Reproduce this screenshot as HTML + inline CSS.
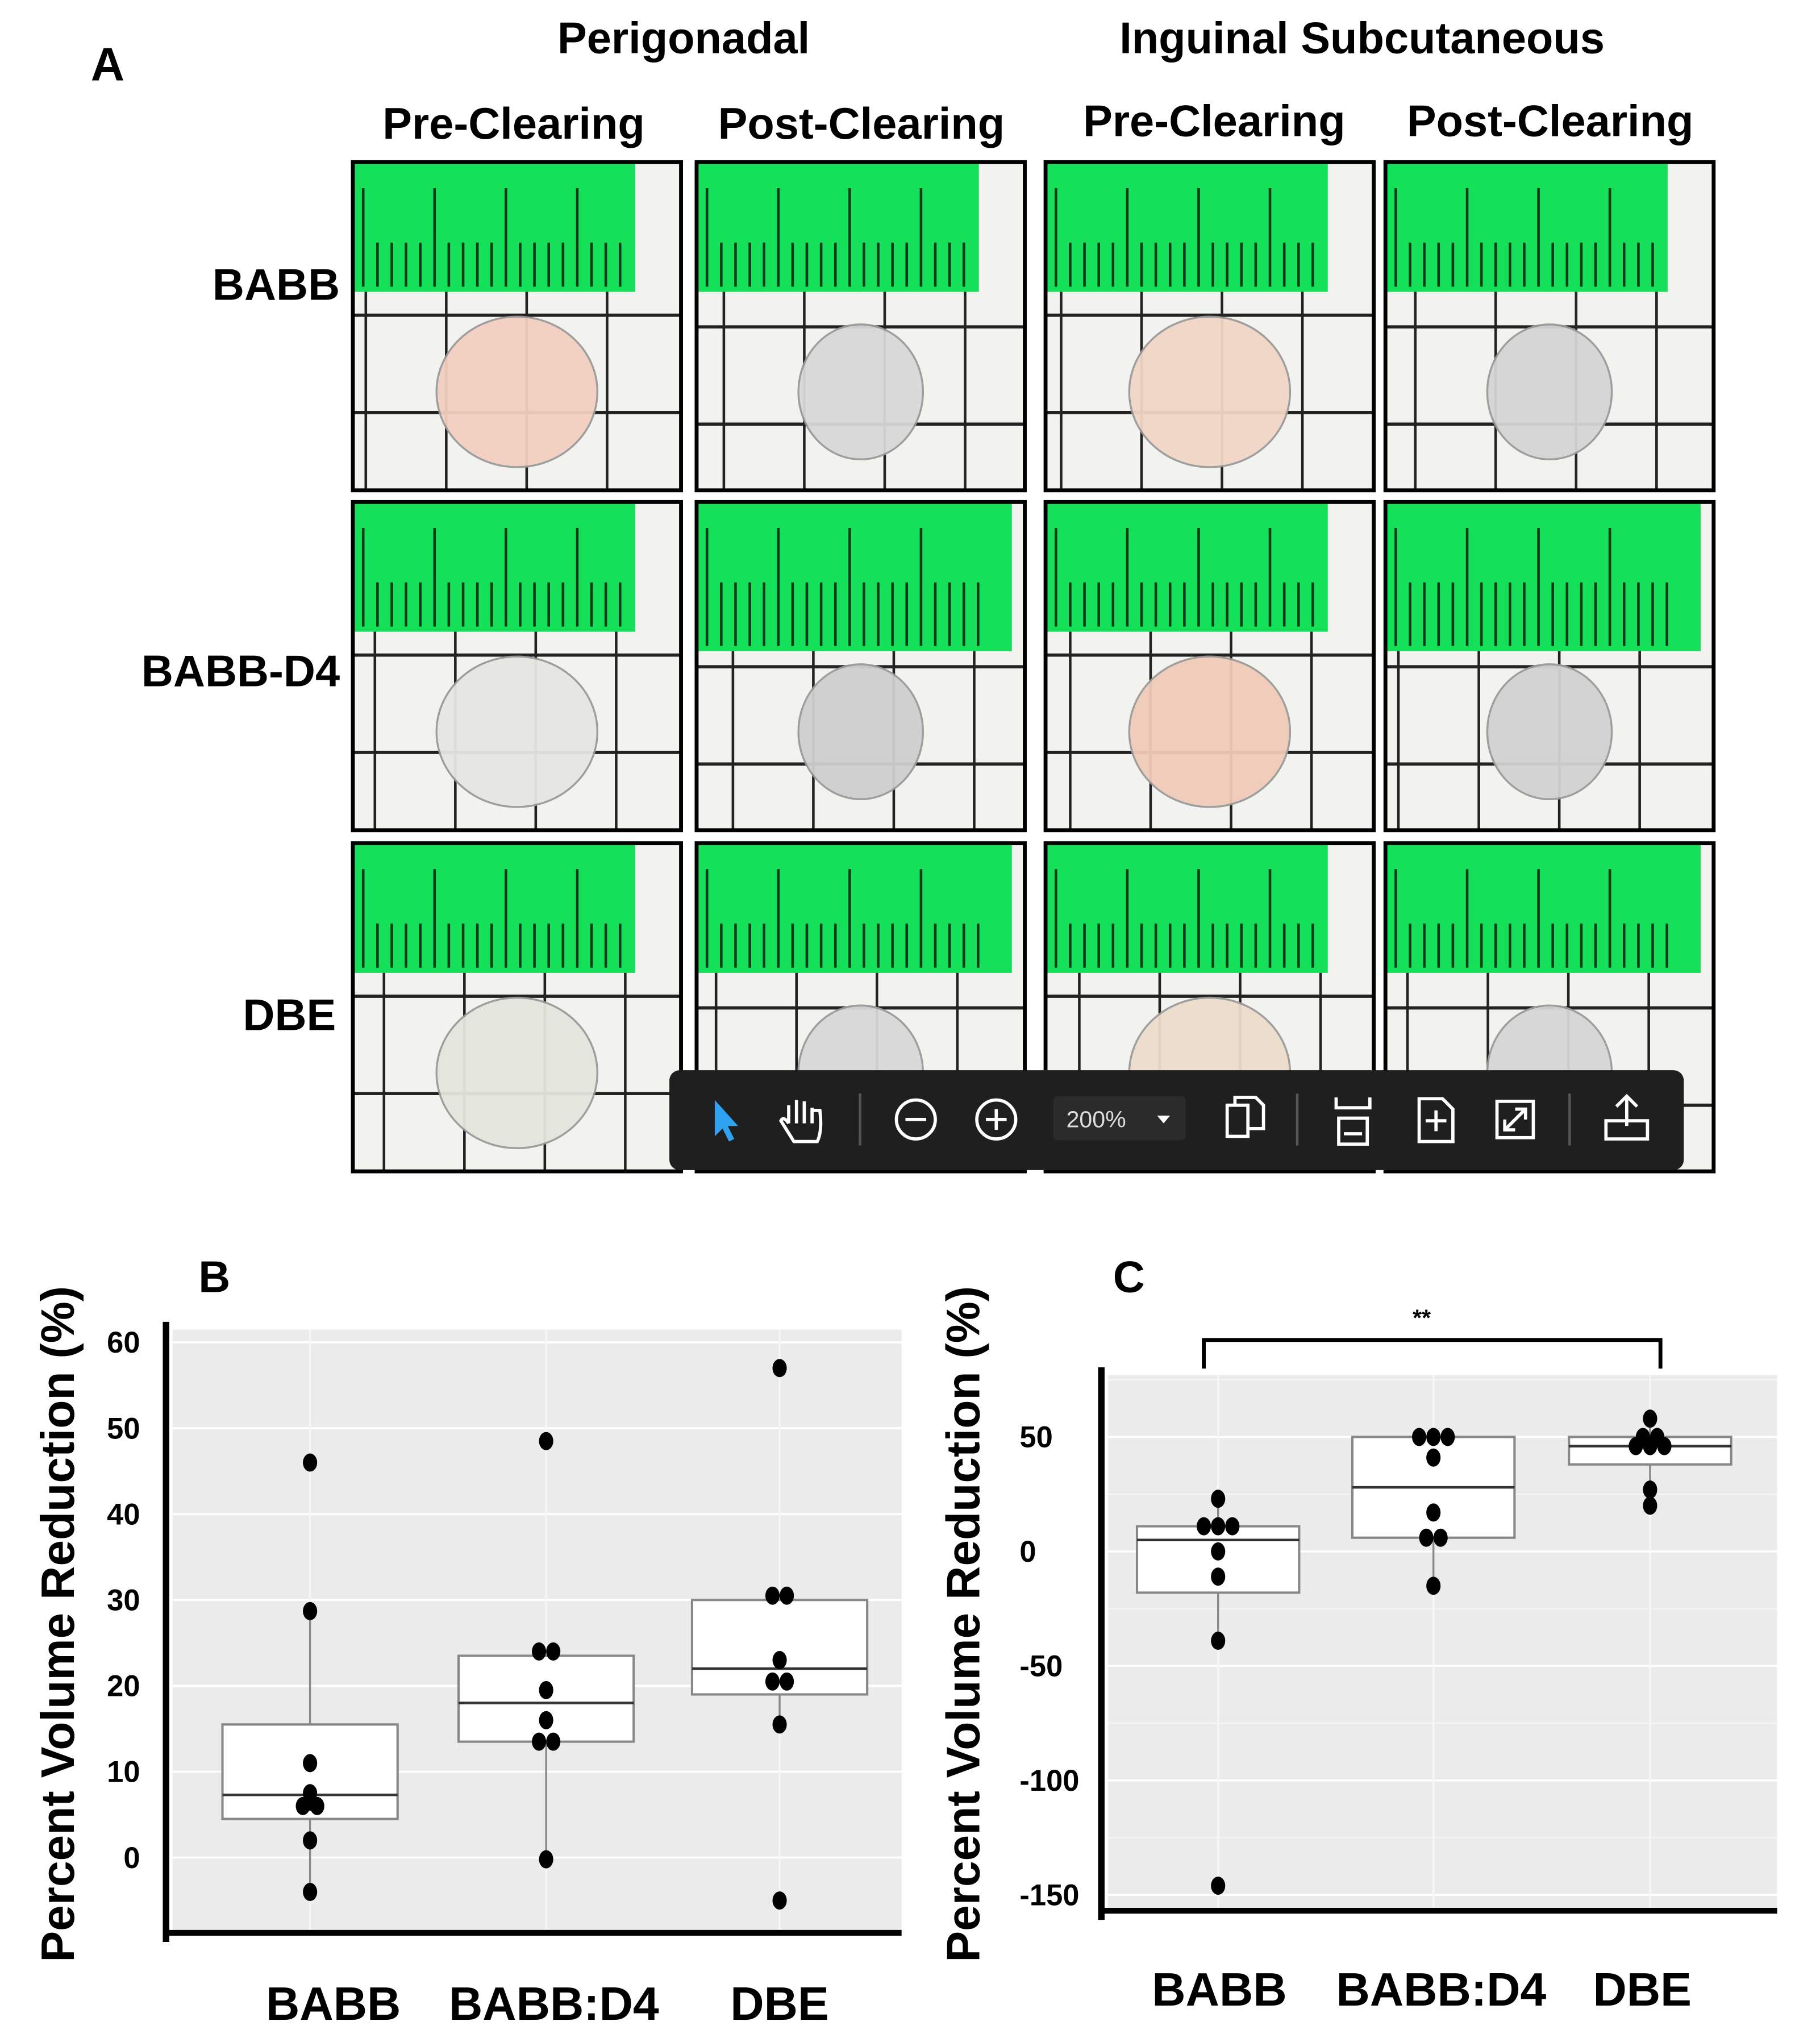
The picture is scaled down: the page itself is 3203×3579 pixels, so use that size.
<!DOCTYPE html>
<html><head><meta charset="utf-8"><style>
html,body{margin:0;padding:0;background:#fff}
svg{display:block}
text{font-family:"Liberation Sans",Arial,sans-serif;font-weight:bold;fill:#000}
</style></head><body>
<svg id="fig" xmlns="http://www.w3.org/2000/svg" width="3203" height="3579" viewBox="0 0 1403 1568" preserveAspectRatio="none">
<rect width="1403" height="1568" fill="#fff"/>
<g id="panelA">
<text x="70" y="62" font-size="36">A</text>
<text x="527" y="41" font-size="34" text-anchor="middle">Perigonadal</text>
<text x="1050" y="41" font-size="34" text-anchor="middle">Inguinal Subcutaneous</text>
<text x="396" y="107" font-size="34" text-anchor="middle">Pre-Clearing</text>
<text x="664" y="107" font-size="34" text-anchor="middle">Post-Clearing</text>
<text x="936" y="105" font-size="34" text-anchor="middle">Pre-Clearing</text>
<text x="1195" y="105" font-size="34" text-anchor="middle">Post-Clearing</text>
<text x="262" y="231" font-size="34" text-anchor="end">BABB</text>
<text x="262" y="529" font-size="34" text-anchor="end">BABB-D4</text>
<text x="259" y="794" font-size="34" text-anchor="end">DBE</text>
</g>
<g id="photos"></g>
<g id="toolbar">
<rect x="516" y="825" width="782" height="77" rx="8" fill="#1f1f1f"/>
<path d="M551 848 L551 876 L557 870 L562 880 L566 878 L561 868 L569 868 Z" fill="#2ea3f2"/>
<g fill="none" stroke="#fff" stroke-width="2.5"><path d="M608 866 L608 852 M614 866 L614 848 M620 866 L620 849 M626 866 L626 854 M608 866 Q604 860 602 864 L612 880 L630 880 Q634 872 632 856 L626 856"/></g>
<line x1="663" y1="843" x2="663" y2="883" stroke="#555" stroke-width="2"/>
<g fill="none" stroke="#fff" stroke-width="2.5"><circle cx="706" cy="863" r="15"/><line x1="698" y1="863" x2="714" y2="863"/></g>
<g fill="none" stroke="#fff" stroke-width="2.5"><circle cx="768" cy="863" r="15"/><line x1="760" y1="863" x2="776" y2="863"/><line x1="768" y1="855" x2="768" y2="871"/></g>
<rect x="812" y="845" width="102" height="34" rx="3" fill="#2b2b2b"/>
<text x="822" y="869" font-size="18" style="fill:#ddd;font-weight:normal">200%</text>
<path d="M892 860 L902 860 L897 866 Z" fill="#fff"/>
<g fill="none" stroke="#fff" stroke-width="2.5"><rect x="946" y="852" width="16" height="24"/><path d="M952 852 L952 846 L968 846 L974 852 L974 870 L962 870"/></g>
<line x1="1000" y1="843" x2="1000" y2="883" stroke="#555" stroke-width="2"/>
<g fill="none" stroke="#fff" stroke-width="2.5"><path d="M1030 846 L1030 854 L1056 854 L1056 846 M1032 862 L1054 862 L1054 882 L1032 882 Z M1036 874 L1050 874"/></g>
<g fill="none" stroke="#fff" stroke-width="2.5"><path d="M1094 847 L1112 847 L1120 855 L1120 880 L1094 880 Z M1107 856 L1107 872 M1099 864 L1115 864"/></g>
<g fill="none" stroke="#fff" stroke-width="2.5"><rect x="1154" y="849" width="28" height="28"/><path d="M1160 871 L1176 855 M1160 863 L1160 871 L1168 871 M1168 855 L1176 855 L1176 863"/></g>
<line x1="1210" y1="843" x2="1210" y2="883" stroke="#555" stroke-width="2"/>
<g fill="none" stroke="#fff" stroke-width="2.5"><path d="M1254 868 L1254 846 M1246 853 L1254 845 L1262 853 M1238 864 L1238 878 L1270 878 L1270 864 Z"/></g>
</g>
<g id="chartB"></g>
<g id="chartC"></g>
</svg>
<script>
const NS='http://www.w3.org/2000/svg';
function mk(tag,attrs,parent){const e=document.createElementNS(NS,tag);for(const k in attrs)e.setAttribute(k,attrs[k]);parent.appendChild(e);return e;}

// ---- photo grid ----
const photoCols=[272,537,806,1068];
const photoRows=[125,387,650];
const blobColors=[['#f2cfc0','#d8d8d8','#f0d6c6','#d5d5d5'],['#e6e6e2','#cfcfcf','#f0cbb8','#d2d2d2'],['#e4e6de','#d8d8d8','#ecdccc','#d6d6d6']];
const photos=document.getElementById('photos');
photoRows.forEach((ry,ri)=>{photoCols.forEach((cx,ci)=>{
  const g=mk('g',{},photos);
  
  
  const w=253,h=253;
  mk('rect',{x:cx,y:ry,width:w,height:h,fill:'#f2f2ee'},g);
  for(let i=0;i<5;i++){const gx=cx+10+i*62+(ri*7+ci*11)%20;if(gx<cx+w)mk('line',{x1:gx,y1:ry,x2:gx,y2:ry+h,stroke:'#222',"stroke-width":2},g);}
  for(let j=0;j<3;j++){const gy=ry+118+j*75+(ci*9)%18;if(gy<ry+h)mk('line',{x1:cx,y1:gy,x2:cx+w,y2:gy,stroke:'#222',"stroke-width":2.5},g);}
  const gw=ci%2===1&&ri>0?w-10:w*0.86, gh=ri===1&&ci%2===1?115:100;
  mk('rect',{x:cx,y:ry,width:gw,height:gh,fill:'#14e05a'},g);
  for(let t=0;t<20;t++){const tx=cx+8+t*11;if(tx>cx+gw-6)break;const long=t%5===0;mk('line',{x1:tx,y1:ry+(long?20:62),x2:tx,y2:ry+gh-4,stroke:'#0a3a18',"stroke-width":2},g);}
  const bc=blobColors[ri][ci];
  mk('ellipse',{cx:cx+w*0.5,cy:ry+h*0.7,rx:ci%2===0?62:48,ry:ci%2===0?58:52,fill:bc,stroke:'#9a9a9a',"stroke-width":1.5,opacity:0.95},g);
  mk('rect',{x:cx,y:ry,width:w,height:h,fill:'none',stroke:'#000',"stroke-width":3},g);
});});
document.getElementById('fig').appendChild(document.getElementById('toolbar'));

// ---- Chart B data ----
const catsB=['BABB','BABB:D4','DBE'];
const boxB_q1=[4.5,13.5,19];
const boxB_med=[7.3,18,22];
const boxB_q3=[15.5,23.5,30];
const whiskB_lo=[-4,0,15.5];
const whiskB_hi=[29,23.5,30];
const ptsB_BABB=[46,28.7,11,7.5,6.5,6,6,2,-4];
const ptsB_D4=[48.5,24,24,19.5,16,13.5,13.5,-0.2];
const ptsB_DBE=[57,30.5,30.5,23,20.5,20.5,15.5,-5];
const ticksB=[0,10,20,30,40,50,60];

// ---- Chart C data ----
const catsC=['BABB','BABB:D4','DBE'];
const boxC_q1=[-18,6,38];
const boxC_med=[5,28,46];
const boxC_q3=[11,50,50];
const whiskC_lo=[-40,-15,20];
const whiskC_hi=[23,50,58];
const ptsC_BABB=[23,11,11,11,0,-11,-39,-146];
const ptsC_D4=[50,50,50,41,17,6,6,-15];
const ptsC_DBE=[58,50,50,46,46,46,27,20];
const ticksC=[-150,-100,-50,0,50];

function drawChart(gid,o){
  const g=document.getElementById(gid);
  const y=v=>o.y0+(v-o.v0)*o.k;
  const x=i=>o.xs[i];
  const bg=mk('rect',{x:o.l,y:o.t,width:o.r-o.l,height:o.b-o.t,fill:'#ebebeb'},g);
  
  
  o.minor.forEach(v=>{mk('line',{x1:o.l,x2:o.r,y1:y(v),y2:y(v),stroke:'#f6f6f6',"stroke-width":1},g);});
  o.ticks.forEach(v=>{
    const gl=mk('line',{x1:o.l,x2:o.r,y1:y(v),y2:y(v),stroke:'#fff',"stroke-width":1.6},g);
    
    
    const t=mk('text',{x:o.tickX,y:y(v)+8,"font-size":23,"text-anchor":o.tickAnchor},g);
    t.textContent=v;
    
    
  });
  o.cats.forEach((c,i)=>{
    mk('line',{x1:x(i),x2:x(i),y1:o.t,y2:o.b,stroke:'#f6f6f6',"stroke-width":1.5},g);
    const wl=mk('line',{x1:x(i),x2:x(i),y1:y(o.wlo[i]),y2:y(o.whi[i]),stroke:'#888',"stroke-width":1.5},g);
    
    
    const bx=mk('rect',{x:x(i)-o.bw/2,y:y(o.q3[i]),width:o.bw,height:y(o.q1[i])-y(o.q3[i]),fill:'#fff',stroke:'#888',"stroke-width":1.8},g);
    
    
    const md=mk('line',{x1:x(i)-o.bw/2,x2:x(i)+o.bw/2,y1:y(o.med[i]),y2:y(o.med[i]),stroke:'#333',"stroke-width":2},g);
    
    
    const lab=mk('text',{x:o.labX[i],y:o.labY,"font-size":36,"text-anchor":"middle"},g);
    lab.textContent=c;
    
    
  });
  o.pts.forEach((arr,i)=>{
    const seen={};
    arr.forEach(v=>{const key=Math.round(y(v)/6);seen[key]=(seen[key]||0)+1;});
    const used={};
    arr.forEach(v=>{
      const key=Math.round(y(v)/6);const n=seen[key];used[key]=(used[key]||0);
      const off=(used[key]-(n-1)/2)*11;used[key]++;
      const p=mk('ellipse',{cx:x(i)+off,cy:y(v),rx:5.5,ry:7,fill:'#000'},g);
      
      
    });
  });
  const ya=mk('line',{x1:o.l-5,x2:o.l-5,y1:o.t-6,y2:o.b+7,stroke:'#000',"stroke-width":5},g);
  
  
  const xa=mk('line',{x1:o.l-7,x2:o.r,y1:o.b,y2:o.b,stroke:'#000',"stroke-width":4.5},g);
  
  
  const yt=mk('text',{x:0,y:0,"font-size":36,"text-anchor":"middle",transform:'translate('+o.titleX+','+o.titleY+') rotate(-90)'},g);
  yt.textContent='Percent Volume Reduction (%)';
  
  
  const pl=mk('text',{x:o.panelX,y:996,"font-size":34},g);
  pl.textContent=o.panel;
  
  
  return y;
}

drawChart('chartB',{l:133,r:695,t:1025,b:1490,y0:1432,v0:0,k:-6.62,xs:[239,421,601],bw:135,
  cats:catsB,q1:boxB_q1,med:boxB_med,q3:boxB_q3,wlo:whiskB_lo,whi:whiskB_hi,pts:[ptsB_BABB,ptsB_D4,ptsB_DBE],
  ticks:ticksB,minor:[],tickX:108,tickAnchor:'end',labY:1557,labX:[257,427,601],titleX:57,titleY:1252,panel:'B',panelX:153});

drawChart('chartC',{l:854,r:1370,t:1060,b:1473,y0:1196,v0:0,k:-1.765,xs:[939,1105,1272],bw:125,
  cats:catsC,q1:boxC_q1,med:boxC_med,q3:boxC_q3,wlo:whiskC_lo,whi:whiskC_hi,pts:[ptsC_BABB,ptsC_D4,ptsC_DBE],
  ticks:ticksC,minor:[-125,-75,-25,25,75],tickX:786,tickAnchor:'start',labY:1546,labX:[940,1111,1266],titleX:755,titleY:1252,panel:'C',panelX:858});

const gC=document.getElementById('chartC');
const br=mk('path',{d:'M928 1055 L928 1033 L1280 1033 L1280 1055',fill:'none',stroke:'#000',"stroke-width":3},gC);


const st=mk('text',{x:1096,y:1022,"font-size":18,"text-anchor":"middle"},gC);
st.textContent='**';


</script>
</body></html>
